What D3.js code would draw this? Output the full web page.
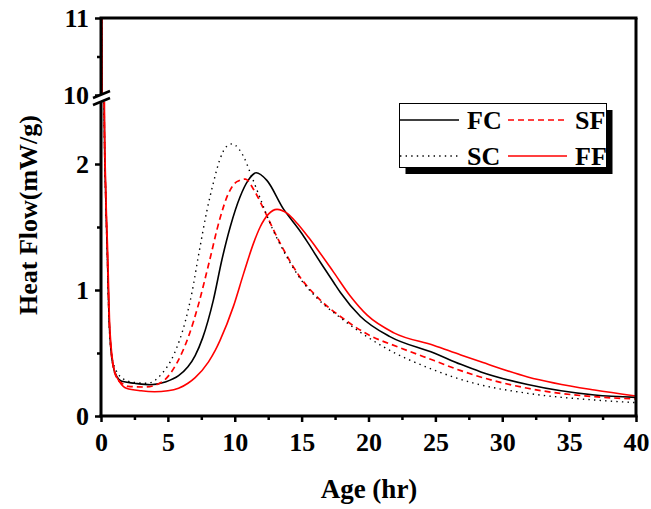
<!DOCTYPE html>
<html>
<head>
<meta charset="utf-8">
<script src="https://cdn.jsdelivr.net/npm/d3@7"></script>
<style>
body { margin: 0; background: #fff; }
text { font-family: "Liberation Serif", "Times New Roman", serif; font-weight: bold; }
</style>
</head>
<body>
<div id="chart"></div>
<script>
"use strict";

// [age (hr), heat flow (mW/g)]
let fc_data = [[0, 14], [0.07, 10], [0.24, 2.4], [0.35, 1.75], [0.47, 1.3], [0.6, 0.78], [0.75, 0.52], [0.9, 0.4], [1.2, 0.31],
    [1.55, 0.275], [2.5, 0.26], [3.7, 0.248], [4.8, 0.27], [5.8, 0.32], [6.5, 0.39], [7.04, 0.48], [7.6, 0.62], [8.4, 0.92],
    [9.04, 1.24], [9.66, 1.5], [10.4, 1.74], [11.0, 1.87], [11.6, 1.93], [12.4, 1.87], [13.66, 1.64], [14.3, 1.55],
    [15.0, 1.45], [15.5, 1.37], [16.4, 1.22], [17.4, 1.06], [17.9, 0.98], [19.4, 0.79], [21.6, 0.63], [24.9, 0.5], [26.9, 0.41],
    [28.4, 0.35], [31.9, 0.25], [36.9, 0.167], [40, 0.148]];

let sf_data = [[0, 14], [0.07, 10], [0.24, 2.4], [0.35, 1.75], [0.47, 1.3], [0.6, 0.78], [0.75, 0.52], [0.9, 0.4], [1.2, 0.3],
    [1.7, 0.25], [2.05, 0.235], [3.3, 0.23], [4.55, 0.27], [5.67, 0.42], [6.54, 0.63], [7.3, 0.89], [8.04, 1.2],
    [8.9, 1.57], [9.5, 1.76], [10.16, 1.86], [10.8, 1.88], [11.4, 1.8], [12.04, 1.67], [12.66, 1.53], [13.5, 1.35],
    [14.9, 1.1], [16.4, 0.92], [17.9, 0.79], [19.9, 0.65], [22.4, 0.54], [24.9, 0.44], [26.9, 0.36], [27.9, 0.325],
    [31.9, 0.22], [36.9, 0.153], [40, 0.135]];

let sc_data = [[0, 14], [0.07, 10], [0.24, 2.4], [0.35, 1.75], [0.47, 1.3], [0.6, 0.78], [0.75, 0.52], [1.05, 0.38],
    [1.8, 0.286], [2.6, 0.265], [3.5, 0.26], [4.5, 0.33], [5.5, 0.5], [6.3, 0.75], [6.8, 0.98], [7.3, 1.28], [7.9, 1.62],
    [8.4, 1.85], [8.9, 2.04], [9.4, 2.14], [9.84, 2.16], [10.3, 2.12], [10.66, 2.06], [11.16, 1.93], [12.04, 1.69],
    [12.8, 1.49], [13.4, 1.36], [14.9, 1.09], [16.2, 0.93], [17.9, 0.78], [21.1, 0.55], [24.9, 0.365], [27.9, 0.26],
    [31.9, 0.18], [36.9, 0.127], [40, 0.106]];

let ff_data = [[0, 14], [0.08, 10], [0.26, 2.4], [0.37, 1.75], [0.5, 1.3], [0.63, 0.78], [0.8, 0.5], [1.0, 0.36], [1.4, 0.27],
    [1.9, 0.22], [3.0, 0.2], [4.0, 0.193], [5.0, 0.2], [5.8, 0.22], [6.5, 0.26], [7.04, 0.305], [8.04, 0.43], [8.54, 0.52],
    [8.9, 0.6], [9.9, 0.87], [10.66, 1.13], [11.4, 1.37], [11.9, 1.5], [12.5, 1.6], [13.16, 1.64], [13.9, 1.61],
    [14.66, 1.53], [15.5, 1.42], [16.2, 1.32], [17.4, 1.14], [18.65, 0.95], [19.9, 0.8], [21.9, 0.66], [24.9, 0.56],
    [26.9, 0.484], [28.4, 0.43], [31.9, 0.31], [36.9, 0.206], [40, 0.159]];

let series = [
    {name: "FC", data: fc_data, color: "#000", dash: null, width: 1.6},
    {name: "SF", data: sf_data, color: "#f00", dash: "6,4", width: 1.7},
    {name: "SC", data: sc_data, color: "#000", dash: "1.4,4.2", width: 1.4},
    {name: "FF", data: ff_data, color: "#f00", dash: null, width: 1.6}
];

let x_ticks = [0, 5, 10, 15, 20, 25, 30, 35, 40];
let x_minor = [2.5, 7.5, 12.5, 17.5, 22.5, 27.5, 32.5, 37.5];
let y_low_ticks = [0, 1, 2];
let y_low_minor = [0.5, 1.5];
let y_up_ticks = [10, 11];
let y_up_minor = [10.5];

let width = 651, height = 509;
let plot_left = 101, plot_right = 636, plot_top = 18, plot_bottom = 416;
let low_top = 101.7, up_bottom = 94.7;
let font_size = 26;

let x = d3.scaleLinear().domain([0, 40]).range([plot_left, plot_right]);
let y_low = d3.scaleLinear().domain([0, 2.5]).range([plot_bottom, 101]);
let y_up = d3.scaleLinear().domain([10, 11]).range([95, plot_top]);

let svg = d3.select("#chart").append("svg").attr("width", width).attr("height", height);

let defs = svg.append("defs");
defs.append("clipPath").attr("id", "clip_low").append("rect")
    .attr("x", plot_left).attr("y", low_top).attr("width", plot_right - plot_left).attr("height", plot_bottom - low_top);
defs.append("clipPath").attr("id", "clip_up").append("rect")
    .attr("x", plot_left).attr("y", plot_top).attr("width", plot_right - plot_left).attr("height", up_bottom - plot_top);

// curves, drawn once per panel
let panels = [{scale: y_low, clip: "url(#clip_low)"}, {scale: y_up, clip: "url(#clip_up)"}];
panels.forEach(p => {
    let line = d3.line().x(d => x(d[0])).y(d => p.scale(d[1])).curve(d3.curveMonotoneX);
    let g = svg.append("g").attr("clip-path", p.clip);
    series.forEach(s => {
        g.append("path").attr("d", line(s.data)).attr("fill", "none")
            .attr("stroke", s.color).attr("stroke-width", s.width)
            .attr("stroke-dasharray", s.dash);
    });
});

function style_axis(g) {
    g.select(".domain").remove();
    g.selectAll(".tick line").attr("stroke", "#000").attr("stroke-width", 2.5);
    g.selectAll(".tick text").attr("font-size", font_size).attr("fill", "#000")
        .style("font-family", '"Liberation Serif", "Times New Roman", serif').style("font-weight", "bold");
}

// x axis
svg.append("g").attr("transform", "translate(0," + plot_bottom + ")")
    .call(d3.axisBottom(x).tickValues(x_ticks).tickSize(6).tickPadding(11).tickFormat(d3.format("d")))
    .call(style_axis);
svg.append("g").attr("transform", "translate(0," + plot_bottom + ")")
    .call(d3.axisBottom(x).tickValues(x_minor).tickSize(4).tickFormat(""))
    .call(style_axis);

// y axis, lower and upper panels
svg.append("g").attr("transform", "translate(" + plot_left + ",0)")
    .call(d3.axisLeft(y_low).tickValues(y_low_ticks).tickSize(6).tickPadding(6).tickFormat(d3.format("d")))
    .call(style_axis);
svg.append("g").attr("transform", "translate(" + plot_left + ",0)")
    .call(d3.axisLeft(y_low).tickValues(y_low_minor).tickSize(4).tickFormat(""))
    .call(style_axis);
svg.append("g").attr("transform", "translate(" + plot_left + ",0)")
    .call(d3.axisLeft(y_up).tickValues(y_up_ticks).tickSize(6).tickPadding(6).tickFormat(d3.format("d")))
    .call(style_axis);
svg.append("g").attr("transform", "translate(" + plot_left + ",0)")
    .call(d3.axisLeft(y_up).tickValues(y_up_minor).tickSize(4).tickFormat(""))
    .call(style_axis);

// frame
let frame = svg.append("g").attr("stroke", "#000").attr("stroke-width", 3).attr("fill", "none");
frame.append("line").attr("x1", plot_left - 1.5).attr("x2", plot_right + 1.5).attr("y1", plot_bottom).attr("y2", plot_bottom);
frame.append("line").attr("x1", plot_left - 1.5).attr("x2", plot_right + 1.5).attr("y1", plot_top).attr("y2", plot_top);
frame.append("line").attr("x1", plot_right).attr("x2", plot_right).attr("y1", plot_top).attr("y2", plot_bottom);
frame.append("line").attr("x1", plot_left).attr("x2", plot_left).attr("y1", low_top).attr("y2", plot_bottom);
frame.append("line").attr("x1", plot_left).attr("x2", plot_left).attr("y1", plot_top).attr("y2", up_bottom);

// axis break marks
let brk = svg.append("g");
brk.append("polygon").attr("points", "93,98 110,91 110,98 93,105").attr("fill", "#fff");
brk.append("line").attr("x1", 93).attr("y1", 98).attr("x2", 110).attr("y2", 91).attr("stroke", "#000").attr("stroke-width", 2.5);
brk.append("line").attr("x1", 93).attr("y1", 105).attr("x2", 110).attr("y2", 98).attr("stroke", "#000").attr("stroke-width", 2.5);

// axis titles
svg.append("text").attr("x", 369).attr("y", 498).attr("text-anchor", "middle")
    .attr("font-size", 27).text("Age (hr)");
svg.append("text").attr("transform", "translate(37,215) rotate(-90)").attr("text-anchor", "middle")
    .attr("font-size", 26).text("Heat Flow(mW/g)");

// legend
let legend = svg.append("g");
legend.append("rect").attr("x", 405.5).attr("y", 110).attr("width", 207).attr("height", 64).attr("fill", "#000");
legend.append("rect").attr("x", 399.5).attr("y", 103.5).attr("width", 207).attr("height", 64)
    .attr("fill", "#fff").attr("stroke", "#000").attr("stroke-width", 1);

let legend_pos = [[400, 120], [508, 120], [400, 156], [508, 156]];
let legend_order = ["FC", "SF", "SC", "FF"];
legend_order.forEach((name, i) => {
    let s = series.find(d => d.name == name);
    let lx = legend_pos[i][0], ly = legend_pos[i][1];
    legend.append("line").attr("x1", lx).attr("x2", lx + 59).attr("y1", ly).attr("y2", ly)
        .attr("stroke", s.color).attr("stroke-width", s.width).attr("stroke-dasharray", s.dash);
    legend.append("text").attr("x", lx + 67).attr("y", ly + 9).attr("font-size", 26).text(name);
});
</script>
</body>
</html>
